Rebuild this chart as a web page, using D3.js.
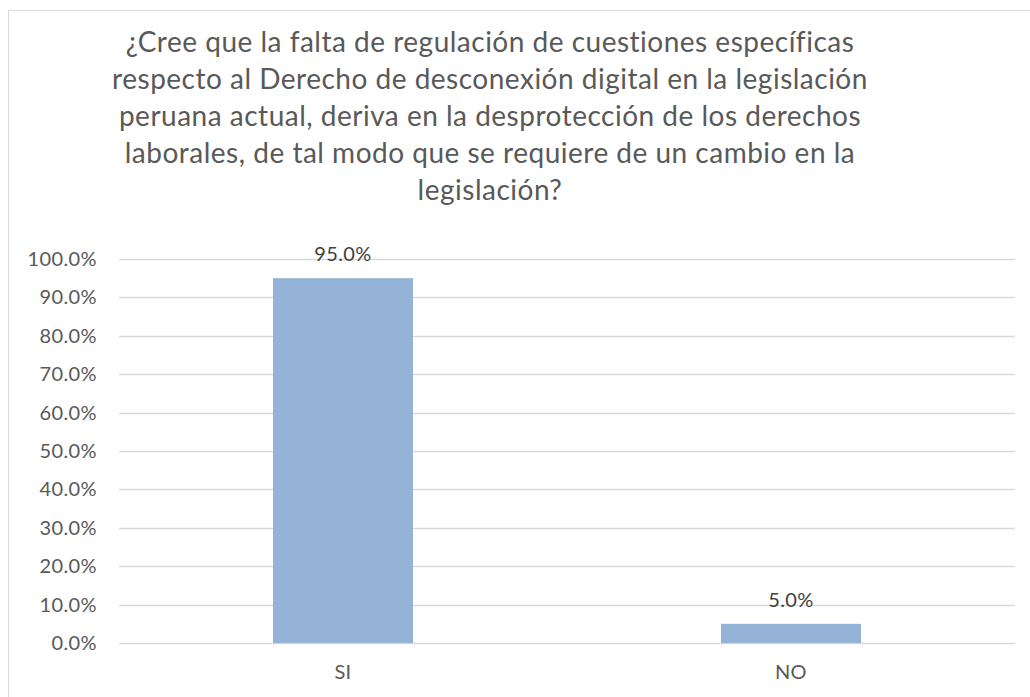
<!DOCTYPE html>
<html>
<head>
<meta charset="utf-8">
<script src="https://cdn.jsdelivr.net/npm/d3@7"></script>
<style>
  body { margin: 0; background: #fff; }
  svg { display: block; font-family: Lato, "Open Sans", sans-serif; font-variant-ligatures: none; }
</style>
</head>
<body>
<svg id="chart" width="1030" height="697"></svg>
<script>
// chart data
var categories = ['SI', 'NO'];
var values = [0.95, 0.05];
var tickValues = [0, 0.1, 0.2, 0.3, 0.4, 0.5, 0.6, 0.7, 0.8, 0.9, 1.0];
var titleLines = [
  '¿Cree que la falta de regulación de cuestiones específicas',
  'respecto al Derecho de desconexión digital en la legislación',
  'peruana actual, deriva en la desprotección de los derechos',
  'laborales, de tal modo que se requiere de un cambio en la',
  'legislación?'
];

var svg = d3.select('#chart');
var textColor = '#595959';
var pct = d3.format('.1%');

// outer border (right / bottom edges fall outside the picture)
svg.append('rect')
  .attr('x', 8.5).attr('y', 10.5)
  .attr('width', 1040).attr('height', 700)
  .attr('fill', 'none')
  .attr('stroke', '#d9d9d9')
  .attr('stroke-width', 1);

// title
svg.append('g').selectAll('text')
  .data(titleLines)
  .enter().append('text')
  .attr('x', 490)
  .attr('y', function(d, i) { return 52 + i * 37; })
  .attr('text-anchor', 'middle')
  .attr('fill', textColor)
  .attr('font-size', 28)
  .attr('letter-spacing', 0.5)
  .text(function(d) { return d; });

var plotLeft = 119, plotRight = 1015, plotTop = 259, plotBottom = 643;

var x = d3.scaleBand().domain(categories).range([plotLeft, plotRight]).padding(0);
var y = d3.scaleLinear().domain([0, 1]).range([plotBottom, plotTop]);
var barW = x.bandwidth() * 0.3125;

// gridlines
svg.append('g').selectAll('line')
  .data(tickValues)
  .enter().append('line')
  .attr('x1', plotLeft).attr('x2', plotRight)
  .attr('y1', function(d) { return Math.round(y(d)) + 0.5; })
  .attr('y2', function(d) { return Math.round(y(d)) + 0.5; })
  .attr('stroke', '#d9d9d9')
  .attr('stroke-width', 1.5);

// y axis labels
var yAxis = d3.axisLeft(y)
  .tickValues(tickValues)
  .tickFormat(pct)
  .tickSize(0)
  .tickPadding(22);
var gy = svg.append('g')
  .attr('transform', 'translate(' + plotLeft + ',0)')
  .call(yAxis);
gy.select('.domain').remove();
gy.selectAll('text')
  .attr('fill', textColor)
  .attr('font-size', 20)
  .attr('letter-spacing', 0.4)
  .attr('font-family', 'Lato, sans-serif');

// bars
svg.append('g').selectAll('rect')
  .data(values)
  .enter().append('rect')
  .attr('x', function(d, i) { return x(categories[i]) + x.bandwidth() / 2 - barW / 2; })
  .attr('y', function(d) { return y(d); })
  .attr('width', barW)
  .attr('height', function(d) { return y(0) - y(d); })
  .attr('fill', '#95b3d7');

// value labels
svg.append('g').selectAll('text')
  .data(values)
  .enter().append('text')
  .attr('x', function(d, i) { return x(categories[i]) + x.bandwidth() / 2; })
  .attr('y', function(d) { return y(d) - 17; })
  .attr('text-anchor', 'middle')
  .attr('fill', '#404040')
  .attr('font-size', 20)
  .attr('letter-spacing', 0.4)
  .text(pct);

// x axis labels
var xAxis = d3.axisBottom(x).tickSize(0).tickPadding(22);
var gx = svg.append('g')
  .attr('transform', 'translate(0,' + plotBottom + ')')
  .call(xAxis);
gx.select('.domain').remove();
gx.selectAll('text')
  .attr('fill', textColor)
  .attr('font-size', 20)
  .attr('letter-spacing', 0.4)
  .attr('font-family', 'Lato, sans-serif');
</script>
</body>
</html>
